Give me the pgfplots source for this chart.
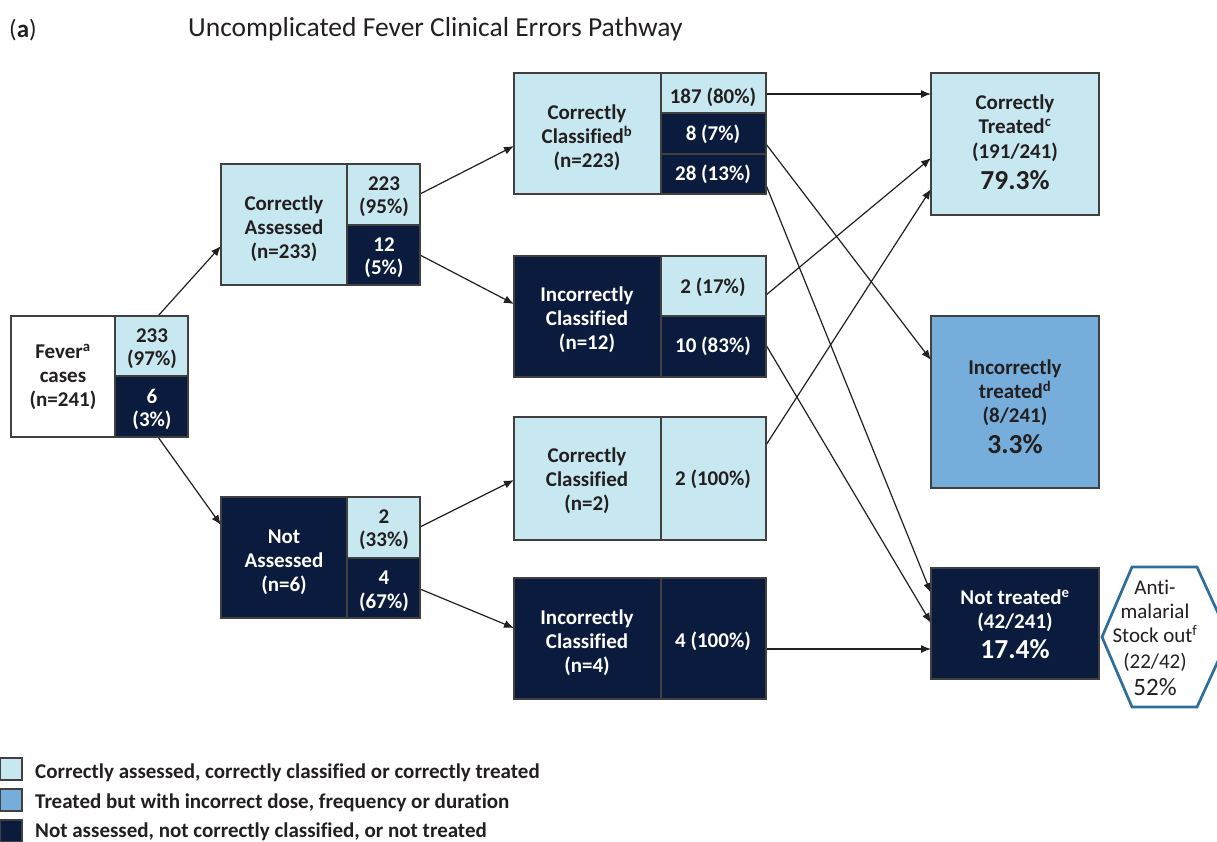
\documentclass[border=0pt]{standalone}
\usepackage{fontspec}
\setmainfont{Carlito}[Ligatures={NoCommon}]
\usepackage{pgfplots}
\pgfplotsset{compat=1.18}
\usetikzlibrary{arrows.meta}
\definecolor{lb}{HTML}{C8E8F1}
\definecolor{mb}{HTML}{77ADDB}
\definecolor{db}{HTML}{0B1B3D}
\definecolor{bd}{HTML}{404040}
\definecolor{hx}{HTML}{2F6D9B}
\definecolor{tx}{HTML}{231F20}
\tikzset{
 bx/.style={draw=bd, line width=1.3pt},
 t/.style={font=\fontsize{21}{25}\selectfont\bfseries, text=tx, anchor=base, yshift=-6.8pt, inner sep=0pt},
 tw/.style={t, text=white},
 big/.style={font=\fontsize{27.5}{32}\selectfont\bfseries, text=tx, anchor=base, yshift=-8.9pt, inner sep=0pt},
 bigw/.style={big, text=white},
 hxt/.style={font=\fontsize{21}{25}\selectfont, text=tx, anchor=base, yshift=-6.8pt, inner sep=0pt},
 lg/.style={font=\fontsize{21}{25}\selectfont\bfseries, text=tx, anchor=base west, yshift=-6.8pt, inner sep=0pt},
 arr/.style={line width=1.2pt, draw=tx, -{Latex[length=10pt,width=8pt]}},
}
\newcommand\B[5]{\draw[bx, fill=#1] (axis cs:#2,#3) rectangle (axis cs:#4,#5);}
\newcommand\T[4]{\node[#1] at (axis cs:#2,#3) {#4};}
\newcommand\A[4]{\addplot[arr, mark=none] coordinates {(#1,#2) (#3,#4)};}
\begin{document}
\begin{tikzpicture}
\begin{axis}[
  scale only axis, width=1217pt, height=841pt,
  xmin=0, xmax=1217, ymin=0, ymax=841, y dir=reverse,
  hide axis, clip=false]
% title
\node[font=\fontsize{25}{30}\selectfont, text=tx, anchor=base west, inner sep=0pt] at (axis cs:9,37) {(\textbf{a})};
\node[font=\fontsize{27.5}{32}\selectfont, text=tx, anchor=base west, inner sep=0pt] at (axis cs:188,36) {Uncomplicated Fever Clinical Errors Pathway};
% arrows
\A{158}{316}{221}{246}
\A{158}{437}{221}{525}
\A{420}{194}{514}{146}
\A{420}{255}{514}{304}
\A{420}{527}{514}{480}
\A{420}{589}{514}{628}
\A{766}{94}{931}{94}
\A{766}{144}{931}{360}
\A{766}{185}{931}{593}
\A{766}{295}{931}{158}
\A{766}{445}{931}{189}
\A{766}{345}{931}{623}
\A{766}{649}{931}{649}
% Fever
\B{white}{11}{316}{115}{437}
\B{lb}{115}{316}{188}{376}
\B{db}{115}{376}{188}{437}
\T{t}{63}{352}{Fever\textsuperscript{a}}
\T{t}{63}{376}{cases}
\T{t}{63}{400}{(n=241)}
\T{t}{152}{336}{233}
\T{t}{152}{359}{(97\%)}
\T{tw}{152}{397}{6}
\T{tw}{152}{420}{(3\%)}
% Correctly assessed
\B{lb}{221}{164}{347}{285}
\B{lb}{347}{164}{420}{225}
\B{db}{347}{225}{420}{285}
\T{t}{284}{204}{Correctly}
\T{t}{284}{228}{Assessed}
\T{t}{284}{252}{(n=233)}
\T{t}{384}{184}{223}
\T{t}{384}{207}{(95\%)}
\T{tw}{384}{245}{12}
\T{tw}{384}{268}{(5\%)}
% Not assessed
\B{db}{221}{497}{347}{618}
\B{lb}{347}{497}{420}{558}
\B{db}{347}{558}{420}{618}
\T{tw}{284}{537}{Not}
\T{tw}{284}{561}{Assessed}
\T{tw}{284}{585}{(n=6)}
\T{t}{384}{517}{2}
\T{t}{384}{540}{(33\%)}
\T{tw}{384}{578}{4}
\T{tw}{384}{602}{(67\%)}
% Correctly classified b
\B{lb}{514}{73}{661}{194}
\B{lb}{661}{73}{766}{113}
\B{db}{661}{113}{766}{154}
\B{db}{661}{154}{766}{194}
\T{t}{587}{113}{Correctly}
\T{t}{587}{137}{Classified\textsuperscript{b}}
\T{t}{587}{161}{(n=223)}
\T{t}{713}{97}{187 (80\%)}
\T{tw}{713}{134}{8 (7\%)}
\T{tw}{713}{174}{28 (13\%)}
% Incorrectly classified 12
\B{db}{514}{256}{661}{377}
\B{lb}{661}{256}{766}{316}
\B{db}{661}{316}{766}{377}
\T{tw}{587}{295}{Incorrectly}
\T{tw}{587}{319}{Classified}
\T{tw}{587}{343}{(n=12)}
\T{t}{713}{287}{2 (17\%)}
\T{tw}{713}{346}{10 (83\%)}
% Correctly classified 2
\B{lb}{514}{417}{661}{540}
\B{lb}{661}{417}{766}{540}
\T{t}{587}{456}{Correctly}
\T{t}{587}{480}{Classified}
\T{t}{587}{504}{(n=2)}
\T{t}{713}{479}{2 (100\%)}
% Incorrectly classified 4
\B{db}{514}{578}{661}{699}
\B{db}{661}{578}{766}{699}
\T{tw}{587}{618}{Incorrectly}
\T{tw}{587}{642}{Classified}
\T{tw}{587}{666}{(n=4)}
\T{tw}{713}{641}{4 (100\%)}
% outcomes
\B{lb}{931}{73}{1099}{215}
\T{t}{1015}{103}{Correctly}
\T{t}{1015}{127}{Treated\textsuperscript{c}}
\T{t}{1015}{152}{(191/241)}
\T{big}{1015}{181}{79.3\%}
\B{mb}{931}{316}{1099}{488}
\T{t}{1015}{368}{Incorrectly}
\T{t}{1015}{392}{treated\textsuperscript{d}}
\T{t}{1015}{416}{(8/241)}
\T{big}{1015}{445}{3.3\%}
\B{db}{931}{568}{1099}{679}
\T{tw}{1015}{598}{Not treated\textsuperscript{e}}
\T{tw}{1015}{622}{(42/241)}
\T{bigw}{1015}{650}{17.4\%}
% hexagon
\draw[draw=hx, line width=2.7pt, fill=white] (axis cs:1102,637) -- (axis cs:1132,567) -- (axis cs:1197,567) -- (axis cs:1229,637) -- (axis cs:1197,707) -- (axis cs:1132,707) -- cycle;
\T{hxt}{1155}{588}{Anti-}
\T{hxt}{1155}{612}{malarial}
\T{hxt}{1155}{636}{Stock out\textsuperscript{f}}
\T{hxt}{1155}{662}{(22/42)}
\node[font=\fontsize{25}{30}\selectfont, text=tx, anchor=base, yshift=-8pt, inner sep=0pt] at (axis cs:1155,687) {52\%};
% legend
\B{lb}{0}{758}{22}{780}
\B{mb}{0}{789}{22}{811}
\B{db}{0}{820}{22}{842}
\T{lg}{35}{772}{Correctly assessed, correctly classified or correctly treated}
\T{lg}{35}{802}{Treated but with incorrect dose, frequency or duration}
\T{lg}{35}{831}{Not assessed, not correctly classified, or not treated}
\end{axis}
\pgfresetboundingbox
\useasboundingbox (0,0) rectangle (1217pt,841pt);
\end{tikzpicture}
\end{document}
